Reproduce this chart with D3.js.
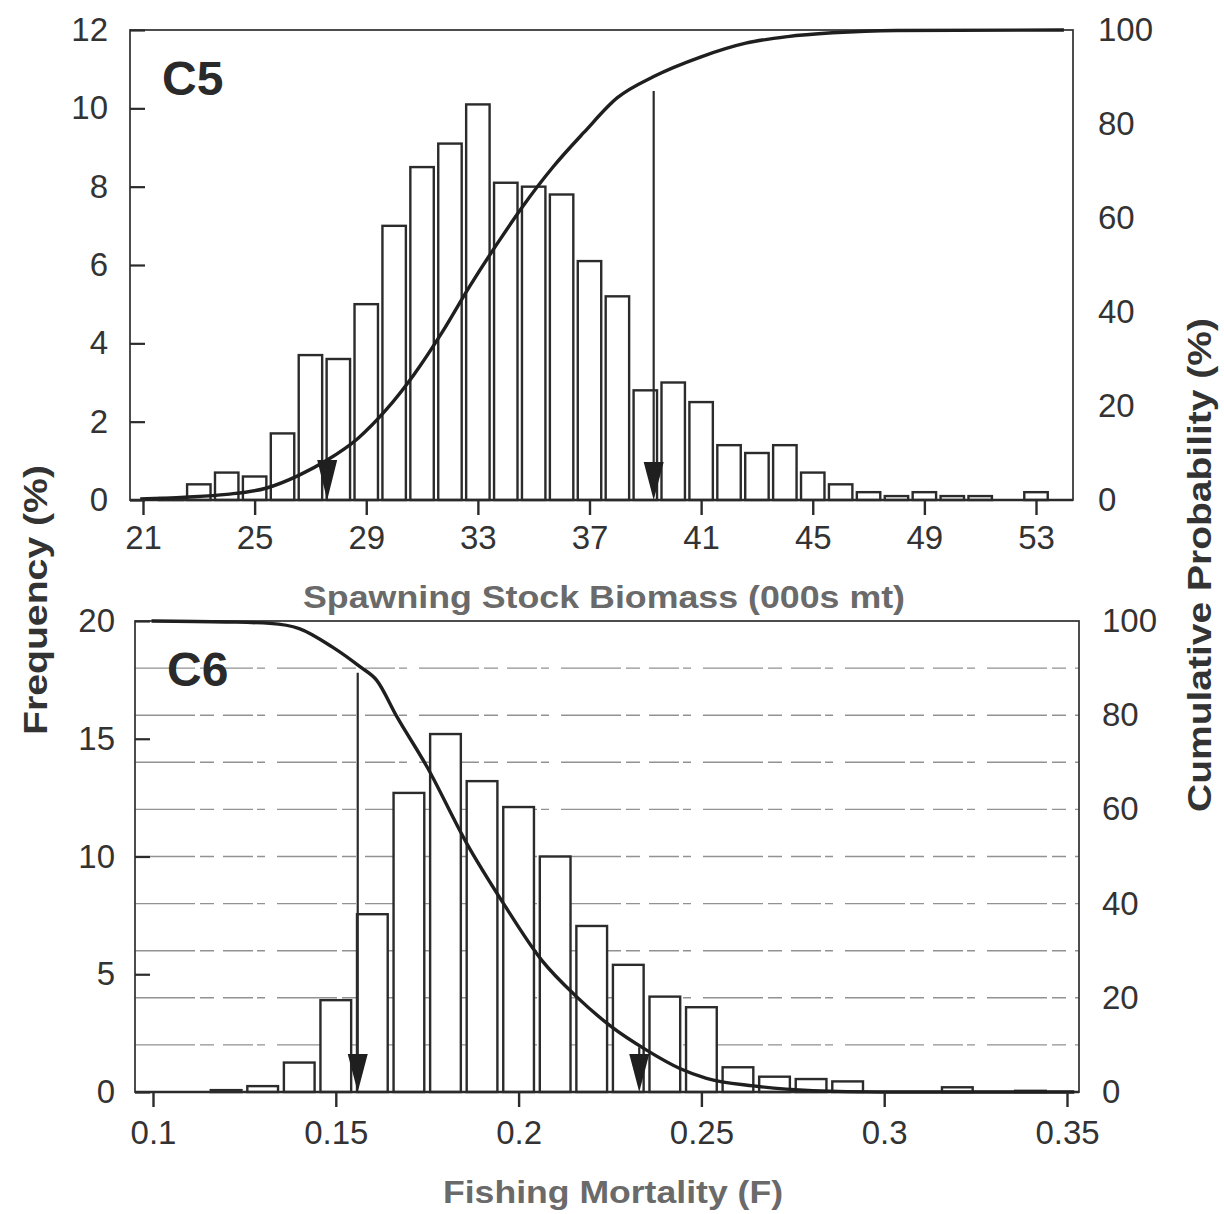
<!DOCTYPE html>
<html>
<head>
<meta charset="utf-8">
<script src="https://cdn.jsdelivr.net/npm/d3@7"></script>
<style>
  body { margin: 0; background: #fff; }
  text { font-family: "Liberation Sans", Arial, sans-serif; }
</style>
</head>
<body>
<div id="chart"></div>
<script>

/**********************
***** DATA *****
**********************/

// panel C5: spawning stock biomass histogram (bins of 1000 mt)
const ssbBins = [22, 23, 24, 25, 26, 27, 28, 29, 30, 31, 32, 33, 34, 35, 36, 37,
                 38, 39, 40, 41, 42, 43, 44, 45, 46, 47, 48, 49, 50, 51, 52, 53];
const ssbFreq = [0.05, 0.4, 0.7, 0.6, 1.7, 3.7, 3.6, 5.0, 7.0, 8.5, 9.1, 10.1, 8.1, 8.0, 7.8, 6.1,
                 5.2, 2.8, 3.0, 2.5, 1.4, 1.2, 1.4, 0.7, 0.4, 0.2, 0.1, 0.2, 0.1, 0.1, 0, 0.2];

// cumulative probability curve C5
const ssbCumX = [20.9, 22.5, 24.0, 25.4, 26.6, 27.6, 28.7, 29.7, 30.7, 31.7, 32.7, 33.7,
                 34.6, 35.7, 36.8, 38.0, 39.3, 41.0, 42.6, 44.1, 45.7, 48.0, 54.0];
const ssbCumP = [0.2, 0.6, 1.2, 2.5, 5.3, 8.5, 13.1, 19.1, 26.6, 35.5, 45.4, 54.6,
                 62.4, 70.9, 78.2, 85.6, 90.1, 94.3, 97.2, 98.6, 99.4, 99.9, 100];

// arrows C5 (x position, starting level in %)
const ssbArrowX = [27.6, 39.3];
const ssbArrowFrom = [8.5, 87];

// panel C6: fishing mortality histogram (bins of 0.01)
const fBins = [0.12, 0.13, 0.14, 0.15, 0.16, 0.17, 0.18, 0.19, 0.20, 0.21, 0.22, 0.23,
               0.24, 0.25, 0.26, 0.27, 0.28, 0.29, 0.30, 0.31, 0.32, 0.33, 0.34];
const fFreq = [0.08, 0.25, 1.25, 3.9, 7.55, 12.7, 15.2, 13.2, 12.1, 10.0, 7.05, 5.4,
               4.05, 3.6, 1.05, 0.65, 0.55, 0.45, 0, 0, 0.2, 0, 0.05];

// cumulative probability curve C6
const fCumX = [0.0996, 0.12, 0.132, 0.140, 0.149, 0.1566, 0.1612, 0.1667, 0.1749, 0.1858,
               0.1958, 0.2063, 0.2159, 0.225, 0.235, 0.2441, 0.2514, 0.2642, 0.2805, 0.299, 0.352];
const fCumP = [100, 99.8, 99.5, 98.4, 94.5, 90.3, 87.4, 79.7, 69.1, 52.8,
               40.1, 28.0, 20.2, 14.1, 8.9, 5.0, 2.9, 1.3, 0.3, 0, 0];

const fArrowX = [0.156, 0.233];
const fArrowFrom = [89, 9.5];

// tick labels
const ssbTicks = [21, 25, 29, 33, 37, 41, 45, 49, 53];
const ssbFreqTicks = [0, 2, 4, 6, 8, 10, 12];
const fTicks = [0.1, 0.15, 0.2, 0.25, 0.3, 0.35];
const fFreqTicks = [0, 5, 10, 15, 20];
const cumTicks = [0, 20, 40, 60, 80, 100];
const fGridLines = [2, 4, 6, 8, 10, 12, 14, 16, 18];


/**********************
***** BASIC SETUP *****
**********************/

const width = 1224;
const height = 1214;
const INK = "#2b2b2b";

const svg = d3.select("#chart").append("svg")
    .attr("width", width)
    .attr("height", height);

svg.append("rect").attr("width", width).attr("height", height).attr("fill", "#fff");


function drawPanel(p) {

    const g = svg.append("g");

    /***********************
    ***** X & Y SCALES *****
    ***********************/

    const x = d3.scaleLinear().domain(p.xDomain).range(p.xRange);
    const yL = d3.scaleLinear().domain(p.yDomain).range([p.bottom, p.top]);
    const yR = d3.scaleLinear().domain([0, 100]).range([p.bottom, p.top]);

    const binW = x(p.binStep) - x(0);
    const barW = binW * 0.84;

    // faint scanned grid lines
    if (p.grid) {
        g.selectAll(".grid")
            .data(p.grid)
            .join("line")
            .attr("x1", p.left)
            .attr("x2", p.right)
            .attr("y1", d => yL(d))
            .attr("y2", d => yL(d))
            .attr("stroke", "#6e6e6e")
            .attr("stroke-width", 1.4)
            .attr("stroke-dasharray", "60,5,14,9,30,4,8,12")
            .attr("opacity", 0.75);
    }

    /******************
    ***** BARS *****
    *******************/

    const bars = p.bins.map((b, i) => ({bin: b, v: p.freq[i]})).filter(d => d.v > 0);

    g.selectAll(".bar")
        .data(bars)
        .join("rect")
        .attr("x", d => x(d.bin) - barW / 2)
        .attr("y", d => yL(d.v))
        .attr("width", barW)
        .attr("height", d => yL(0) - yL(d.v))
        .attr("fill", "#fff")
        .attr("stroke", INK)
        .attr("stroke-width", 2.4);

    /******************
    ***** FRAME *****
    *******************/

    g.append("rect")
        .attr("x", p.left)
        .attr("y", p.top)
        .attr("width", p.right - p.left)
        .attr("height", p.bottom - p.top)
        .attr("fill", "none")
        .attr("stroke", "#3a3a3a")
        .attr("stroke-width", 1.8);

    g.append("line")
        .attr("x1", p.left).attr("x2", p.right)
        .attr("y1", p.bottom).attr("y2", p.bottom)
        .attr("stroke", INK)
        .attr("stroke-width", 2.6);

    /*************************
    ***** CUMULATIVE LINE *****
    **************************/

    const pts = p.cumX.map((v, i) => [v, p.cumP[i]]);
    g.append("path")
        .datum(pts)
        .attr("fill", "none")
        .attr("stroke", "#1f1f1f")
        .attr("stroke-width", 3.4)
        .attr("d", d3.line()
            .x(d => x(d[0]))
            .y(d => yR(d[1]))
            .curve(d3.curveMonotoneX));

    /*****************
    ***** ARROWS *****
    ******************/

    const headH = 38, headW = 20;
    p.arrowX.forEach((ax, i) => {
        const cx = x(ax);
        const y0 = yR(p.arrowFrom[i]);
        const tip = yL(0);
        let top = y0;
        if (tip - y0 > headH + 4) {
            top = tip - headH;
            g.append("line")
                .attr("x1", cx).attr("x2", cx)
                .attr("y1", y0).attr("y2", top + 2)
                .attr("stroke", INK)
                .attr("stroke-width", 2.2);
        }
        g.append("path")
            .attr("d", `M${cx - headW / 2},${top} L${cx + headW / 2},${top} L${cx},${tip} Z`)
            .attr("fill", "#1f1f1f");
    });

    /***************
    ***** AXES *****
    ****************/

    const axisFont = sel => sel.selectAll("text")
        .style("font-family", "'Liberation Sans', Arial, sans-serif")
        .style("font-size", "33px")
        .attr("fill", "#333");

    const xAxis = g.append("g")
        .attr("transform", `translate(0, ${p.bottom})`)
        .call(d3.axisBottom(x)
            .tickValues(p.xTicks)
            .tickFormat(d => String(d))
            .tickSizeInner(15)
            .tickSizeOuter(0)
            .tickPadding(p.xPad));
    xAxis.select(".domain").remove();
    xAxis.selectAll("line").attr("stroke", INK).attr("stroke-width", 2.4);
    axisFont(xAxis);

    const yAxisL = g.append("g")
        .attr("transform", `translate(${p.left}, 0)`)
        .call(d3.axisLeft(yL)
            .tickValues(p.yTicks)
            .tickSizeInner(-15)
            .tickSizeOuter(0)
            .tickPadding(p.yPad));
    yAxisL.select(".domain").remove();
    yAxisL.selectAll("line").attr("stroke", INK).attr("stroke-width", 2.2);
    axisFont(yAxisL);

    const yAxisR = g.append("g")
        .attr("transform", `translate(${p.right}, 0)`)
        .call(d3.axisRight(yR)
            .tickValues(cumTicks)
            .tickSize(0)
            .tickPadding(p.rPad));
    yAxisR.select(".domain").remove();
    yAxisR.selectAll("line").remove();
    axisFont(yAxisR);

    /********************
    ***** LABELS *****
    *********************/

    g.append("text")
        .attr("x", p.left + 32)
        .attr("y", p.top + 65)
        .style("font-size", "48px")
        .style("font-weight", "bold")
        .attr("fill", "#2a2a2a")
        .text(p.tag);

    g.append("text")
        .attr("x", p.titleX)
        .attr("y", p.titleY)
        .attr("text-anchor", "middle")
        .attr("textLength", p.titleLen)
        .attr("lengthAdjust", "spacingAndGlyphs")
        .style("font-size", "32px")
        .style("font-weight", "bold")
        .attr("fill", "#6a6a6a")
        .text(p.title);
}


/*****************
***** PANELS *****
******************/

drawPanel({
    left: 130, right: 1073, top: 30, bottom: 500,
    xDomain: [21, 53], xRange: [143, 1036],
    yDomain: [0, 12],
    binStep: 1,
    bins: ssbBins, freq: ssbFreq,
    cumX: ssbCumX, cumP: ssbCumP,
    arrowX: ssbArrowX, arrowFrom: ssbArrowFrom,
    xTicks: ssbTicks, yTicks: ssbFreqTicks,
    xPad: 11, yPad: 22, rPad: 25,
    tag: "C5",
    title: "Spawning Stock Biomass (000s mt)",
    titleX: 604, titleY: 608, titleLen: 602
});

drawPanel({
    left: 135, right: 1079, top: 621, bottom: 1092,
    xDomain: [0.1, 0.35], xRange: [153, 1067],
    yDomain: [0, 20],
    binStep: 0.01,
    bins: fBins, freq: fFreq,
    cumX: fCumX, cumP: fCumP,
    arrowX: fArrowX, arrowFrom: fArrowFrom,
    xTicks: fTicks, yTicks: fFreqTicks,
    xPad: 14, yPad: 20, rPad: 23,
    tag: "C6",
    title: "Fishing Mortality (F)",
    titleX: 613, titleY: 1203, titleLen: 340,
    grid: fGridLines
});

// shared y axis titles
svg.append("text")
    .attr("transform", "translate(47, 600) rotate(-90)")
    .attr("text-anchor", "middle")
    .attr("textLength", 270)
    .attr("lengthAdjust", "spacingAndGlyphs")
    .style("font-size", "34px")
    .style("font-weight", "bold")
    .attr("fill", "#333")
    .text("Frequency (%)");

svg.append("text")
    .attr("transform", "translate(1211, 565) rotate(-90)")
    .attr("text-anchor", "middle")
    .attr("textLength", 494)
    .attr("lengthAdjust", "spacingAndGlyphs")
    .style("font-size", "34px")
    .style("font-weight", "bold")
    .attr("fill", "#333")
    .text("Cumulative Probability (%)");

</script>
</body>
</html>
